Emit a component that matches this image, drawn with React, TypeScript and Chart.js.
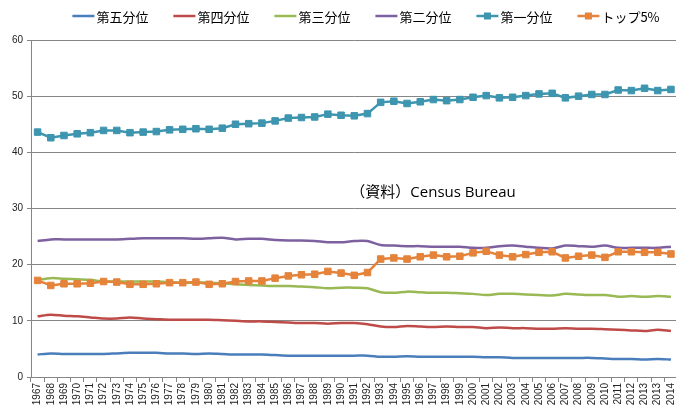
import React, { useEffect, useRef } from "react";
import { Chart, registerables } from "chart.js";

Chart.register(...registerables);

const categories = [
  "1967", "1968", "1969", "1970", "1971", "1972", "1973", "1974", "1975", "1976",
  "1977", "1978", "1979", "1980", "1981", "1982", "1983", "1984", "1985", "1986",
  "1987", "1988", "1989", "1990", "1991", "1992", "1993", "1994", "1995", "1996",
  "1997", "1998", "1999", "2000", "2001", "2002", "2003", "2004", "2005", "2006",
  "2007", "2008", "2009", "2010", "2011", "2012", "2013", "2013", "2014",
];

const fifthQuintile = [
  4.0, 4.2, 4.1, 4.1, 4.1, 4.1, 4.2, 4.3, 4.3, 4.3,
  4.2, 4.2, 4.1, 4.2, 4.1, 4.0, 4.0, 4.0, 3.9, 3.8,
  3.8, 3.8, 3.8, 3.8, 3.8, 3.8, 3.6, 3.6, 3.7, 3.6,
  3.6, 3.6, 3.6, 3.6, 3.5, 3.5, 3.4, 3.4, 3.4, 3.4,
  3.4, 3.4, 3.4, 3.3, 3.2, 3.2, 3.1, 3.2, 3.1,
];

const fourthQuintile = [
  10.8, 11.1, 10.9, 10.8, 10.6, 10.4, 10.4, 10.6, 10.4, 10.3,
  10.2, 10.2, 10.2, 10.2, 10.1, 10.0, 9.9, 9.9, 9.8, 9.7,
  9.6, 9.6, 9.5, 9.6, 9.6, 9.4, 9.0, 8.9, 9.1, 9.0,
  8.9, 9.0, 8.9, 8.9, 8.7, 8.8, 8.7, 8.7, 8.6, 8.6,
  8.7, 8.6, 8.6, 8.5, 8.4, 8.3, 8.2, 8.4, 8.2,
];

const thirdQuintile = [
  17.3, 17.6, 17.5, 17.4, 17.3, 17.0, 17.0, 17.0, 17.0, 17.0,
  16.9, 16.8, 16.8, 16.8, 16.7, 16.5, 16.4, 16.3, 16.2, 16.2,
  16.1, 16.0, 15.8, 15.9, 15.9, 15.8, 15.1, 15.0, 15.2, 15.1,
  15.0, 15.0, 14.9, 14.8, 14.6, 14.8, 14.8, 14.7, 14.6, 14.5,
  14.8, 14.7, 14.6, 14.6, 14.3, 14.4, 14.3, 14.4, 14.3,
];

const secondQuintile = [
  24.2, 24.5, 24.5, 24.5, 24.5, 24.5, 24.5, 24.6, 24.7, 24.7,
  24.7, 24.7, 24.6, 24.7, 24.8, 24.5, 24.6, 24.6, 24.4, 24.3,
  24.3, 24.2, 24.0, 24.0, 24.2, 24.2, 23.5, 23.4, 23.3, 23.3,
  23.2, 23.2, 23.2, 23.0, 23.0, 23.3, 23.4, 23.2, 23.0, 22.9,
  23.4, 23.3, 23.2, 23.4, 23.0, 23.0, 23.0, 23.0, 23.2,
];

const firstQuintile = [
  43.6, 42.6, 43.0, 43.3, 43.5, 43.9, 43.9, 43.5, 43.6, 43.7,
  44.0, 44.1, 44.2, 44.1, 44.3, 45.0, 45.1, 45.2, 45.6, 46.1,
  46.2, 46.3, 46.8, 46.6, 46.5, 46.9, 48.9, 49.1, 48.7, 49.0,
  49.4, 49.2, 49.4, 49.8, 50.1, 49.7, 49.8, 50.1, 50.4, 50.5,
  49.7, 50.0, 50.3, 50.3, 51.1, 51.0, 51.4, 51.0, 51.2,
];

const top5Percent = [
  17.2, 16.3, 16.6, 16.6, 16.7, 17.0, 16.9, 16.5, 16.5, 16.6,
  16.8, 16.8, 16.9, 16.5, 16.6, 17.0, 17.1, 17.1, 17.6, 18.0,
  18.2, 18.3, 18.8, 18.5, 18.1, 18.6, 21.0, 21.2, 21.0, 21.4,
  21.7, 21.4, 21.5, 22.1, 22.4, 21.7, 21.4, 21.8, 22.2, 22.3,
  21.2, 21.5, 21.7, 21.3, 22.3, 22.3, 22.2, 22.2, 21.9,
];

const seriesNames = ["第五分位", "第四分位", "第三分位", "第二分位", "第一分位", "トップ5%"];
const seriesColors = ["#4A7EBB", "#BE4B48", "#98B954", "#7D60A0", "#3D95AF", "#E5833A"];
const seriesMarkers = [false, false, false, false, true, true];
const seriesValues = [fifthQuintile, fourthQuintile, thirdQuintile, secondQuintile, firstQuintile, top5Percent];

const yTicks = [0, 10, 20, 30, 40, 50, 60];
const sourceNote = "（資料）Census Bureau";

const overlayPlugin = {
  id: "overlay",
  afterDraw(chart: any) {
    const ctx = chart.ctx as CanvasRenderingContext2D;
    ctx.save();
    // legend
    ctx.font = "13px 'Noto Sans CJK JP', sans-serif";
    ctx.textBaseline = "middle";
    ctx.textAlign = "left";
    const lineLen = 22;
    const gapText = 2;
    const gapItem = 25;
    const widths = chart.data.datasets.map((d: any) => lineLen + gapText + ctx.measureText(d.label).width);
    const total = widths.reduce((a: number, b: number) => a + b, 0) + gapItem * (widths.length - 1);
    let x = 366 - total / 2;
    const y = 16;
    chart.data.datasets.forEach((d: any, i: number) => {
      ctx.strokeStyle = d.borderColor;
      ctx.lineWidth = 2.5;
      ctx.beginPath();
      ctx.moveTo(x, y);
      ctx.lineTo(x + lineLen, y);
      ctx.stroke();
      if (d.pointRadius > 0) {
        ctx.fillStyle = d.pointBackgroundColor;
        ctx.fillRect(x + lineLen / 2 - 3.5, y - 3.5, 7, 7);
      }
      ctx.fillStyle = "#000";
      ctx.fillText(d.label, x + lineLen + gapText, y + 1);
      x += widths[i] + gapItem;
    });
    // source note
    const xs = chart.scales.x;
    const ys = chart.scales.y;
    ctx.font = "15px 'Open Sans', 'Noto Sans CJK JP', sans-serif";
    ctx.textBaseline = "alphabetic";
    ctx.fillStyle = "#000";
    ctx.fillText(sourceNote, xs.getPixelForValue(23.7), ys.getPixelForValue(32));
    ctx.restore();
  },
};

export default function App() {
  const canvasRef = useRef<HTMLCanvasElement | null>(null);

  useEffect(() => {
    const canvas = canvasRef.current;
    if (!canvas) return;
    const datasets = seriesNames.map((name, i) => ({
      label: name,
      data: seriesValues[i],
      borderColor: seriesColors[i],
      backgroundColor: seriesColors[i],
      borderWidth: 2.5,
      tension: seriesMarkers[i] ? 0 : 0.3,
      pointStyle: "rect",
      pointRadius: seriesMarkers[i] ? 4.6 : 0,
      pointHoverRadius: seriesMarkers[i] ? 4.6 : 0,
      pointBackgroundColor: seriesColors[i],
      pointBorderColor: seriesColors[i],
      pointBorderWidth: 1,
      order: seriesNames.length - i,
      fill: false,
    }));
    const chart = new Chart(canvas, {
      type: "line",
      data: { labels: categories, datasets },
      options: {
        responsive: false,
        animation: false,
        devicePixelRatio: 1,
        layout: { padding: { top: 40, right: 4, left: 0, bottom: 0 } },
        plugins: { legend: { display: false }, tooltip: { enabled: false } },
        scales: {
          x: {
            offset: true,
            grid: { drawOnChartArea: false, offset: true, tickLength: 5, color: "#868686" },
            border: { color: "#868686", width: 1 },
            ticks: {
              autoSkip: false,
              minRotation: 90,
              maxRotation: 90,
              padding: 1,
              color: "#222",
              font: { family: "'Liberation Sans', Arial, sans-serif", size: 10 },
            },
            afterFit: (s: any) => { s.height = 30; },
          },
          y: {
            min: 0,
            max: 60,
            afterBuildTicks: (s: any) => { s.ticks = yTicks.map((v) => ({ value: v })); },
            grid: { color: "#868686", tickLength: 4 },
            border: { color: "#868686", width: 1 },
            ticks: {
              padding: 4,
              color: "#222",
              font: { family: "'Liberation Sans', Arial, sans-serif", size: 10 },
            },
            afterFit: (s: any) => { s.width = 31; },
          },
        },
      },
      plugins: [overlayPlugin],
    });
    return () => chart.destroy();
  }, []);

  return (
    <div style={{ position: "fixed", left: 0, top: 0, width: 676, height: 407, overflow: "hidden", background: "#fff" }}>
      <canvas ref={canvasRef} width={684} height={407} style={{ display: "block" }} />
    </div>
  );
}
